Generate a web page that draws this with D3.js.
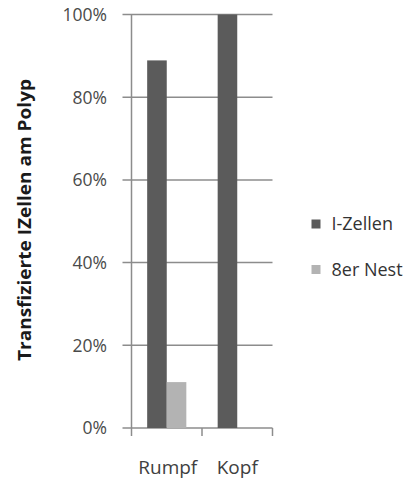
<!DOCTYPE html>
<html>
<head>
<meta charset="utf-8">
<script src="https://cdn.jsdelivr.net/npm/d3@7"></script>
<style>
  body { margin: 0; background: #fff; }
  svg text { font-family: "Open Sans", "Noto Sans", sans-serif; }
</style>
</head>
<body>
<svg id="chart" width="420" height="479"></svg>
<script>
// data
const categories = ["Rumpf", "Kopf"];
const seriesNames = ["I-Zellen", "8er Nest"];
const iZellen = [0.889, 1.0];
const nest8 = [0.111, 0];
const yTicks = [0, 0.2, 0.4, 0.6, 0.8, 1.0];

const colours = ["#5b5b5b", "#b3b3b3"];
const gridColour = "#8c8c8c";

var svg = d3.select("#chart");

// plot area
var x0 = 131.5, x1 = 272.5, yTop = 14.5, yBot = 428;

var x = d3.scaleBand().domain(categories).range([x0, x1]);
var xInner = d3.scaleBand().domain(seriesNames).range([0, x.bandwidth()]).paddingOuter(0.8);
var y = d3.scaleLinear().domain([0, 1]).range([yBot, yTop]);

// grid lines
svg.append("g")
  .selectAll("line")
  .data(yTicks)
  .join("line")
  .attr("x1", x0 - 9)
  .attr("x2", x1)
  .attr("y1", d => y(d))
  .attr("y2", d => y(d))
  .attr("stroke", gridColour)
  .attr("stroke-width", 1.5);

// y tick labels
svg.append("g")
  .selectAll("text")
  .data(yTicks)
  .join("text")
  .attr("x", 107)
  .attr("y", d => y(d))
  .attr("dy", "0.36em")
  .attr("text-anchor", "end")
  .attr("font-size", 17.5)
  .attr("fill", "#4a4a4a")
  .text(d3.format(".0%"));

// bars
var rows = categories.map((c, i) => ({ cat: c, values: [iZellen[i], nest8[i]] }));
svg.append("g")
  .selectAll("g")
  .data(rows)
  .join("g")
  .attr("transform", d => `translate(${x(d.cat)},0)`)
  .selectAll("rect")
  .data(d => d.values.map((v, j) => ({ s: seriesNames[j], v: v, j: j })))
  .join("rect")
  .attr("x", d => xInner(d.s))
  .attr("width", xInner.bandwidth())
  .attr("y", d => y(d.v))
  .attr("height", d => yBot - y(d.v))
  .attr("fill", d => colours[d.j]);

// y axis line
svg.append("line")
  .attr("x1", x0).attr("x2", x0)
  .attr("y1", yTop).attr("y2", yBot)
  .attr("stroke", gridColour).attr("stroke-width", 1.5);

// x axis ticks (between categories)
var xTickPos = [x0].concat(categories.map(c => x(c) + x.bandwidth()));
svg.append("g")
  .selectAll("line")
  .data(xTickPos)
  .join("line")
  .attr("x1", d => d).attr("x2", d => d)
  .attr("y1", yBot).attr("y2", yBot + 8)
  .attr("stroke", gridColour).attr("stroke-width", 1.5);

// x labels
svg.append("g")
  .selectAll("text")
  .data(categories)
  .join("text")
  .attr("x", (d, i) => x(d) + x.bandwidth() / 2 + (i === 0 ? 1 : 0))
  .attr("y", 474)
  .attr("text-anchor", "middle")
  .attr("font-size", 19)
  .attr("fill", "#404040")
  .text(d => d);

// y title
svg.append("text")
  .attr("transform", "translate(31,220) rotate(-90)")
  .attr("text-anchor", "middle")
  .attr("font-size", 17)
  .attr("font-weight", "bold")
  .attr("fill", "#1a1a1a")
  .attr("textLength", 282)
  .attr("lengthAdjust", "spacingAndGlyphs")
  .text("Transfizierte IZellen am Polyp");

// legend
var legend = svg.append("g")
  .selectAll("g")
  .data(seriesNames)
  .join("g")
  .attr("transform", (d, i) => `translate(311.5,${219.5 + i * 45.5})`);
legend.append("rect")
  .attr("width", 9).attr("height", 9)
  .attr("fill", (d, i) => colours[i]);
legend.append("text")
  .attr("x", 20)
  .attr("y", 4.5)
  .attr("dy", "0.36em")
  .attr("font-size", 18)
  .attr("fill", "#333")
  .text(d => d);
</script>
</body>
</html>
